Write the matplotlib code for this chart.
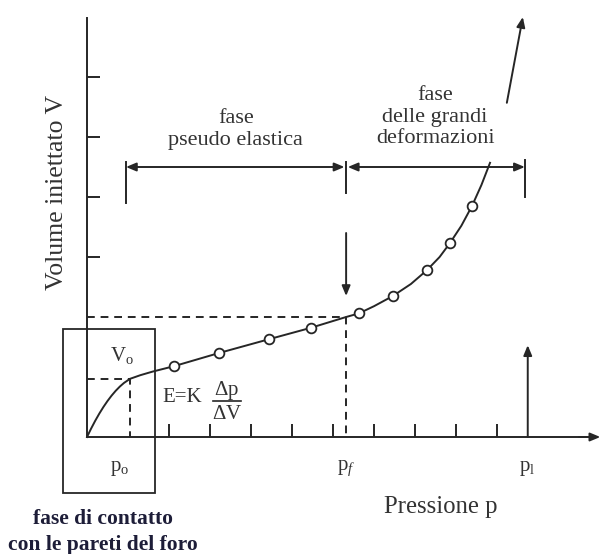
import matplotlib.pyplot as plt

plt.rcParams['font.family'] = ['Liberation Serif', 'DejaVu Serif']
plt.rcParams['mathtext.fontset'] = 'custom'
plt.rcParams['mathtext.rm'] = 'Liberation Serif'
plt.rcParams['mathtext.it'] = 'Liberation Serif:italic'

# prova pressiometrica: volume iniettato in funzione della pressione
curve_p = [0.0, 0.1, 0.2, 0.3, 0.4, 0.5, 0.6, 0.7, 0.8, 0.9, 1.05, 1.3, 1.6, 2.12,
           3.22, 4.44, 5.46, 6.32, 6.63, 7.0, 7.46, 7.9, 8.29, 8.6, 8.85, 9.13, 9.39,
           9.62, 9.83]
curve_v = [0.0, 0.14, 0.27, 0.39, 0.5, 0.6, 0.69, 0.77, 0.84, 0.9, 0.97, 1.03, 1.09, 1.18,
           1.40, 1.63, 1.82, 2.0, 2.06, 2.18, 2.35, 2.55, 2.78, 3.0, 3.23, 3.52, 3.85,
           4.2, 4.57]

# letture (cerchietti)
meas_p = [2.12, 3.22, 4.44, 5.46, 6.63, 7.46, 8.29, 8.85, 9.39]
meas_v = [1.18, 1.40, 1.63, 1.82, 2.06, 2.35, 2.78, 3.23, 3.85]

p0, v0 = 1.05, 0.97
pf, vf = 6.32, 2.0
pl = 10.75
phase_edges = [0.95, 6.32, 10.68]
phase_y = 4.5

x_ticks = [2, 3, 4, 5, 6, 7, 8, 9, 10]
y_ticks = [3, 4, 5, 6]

ink = '#262626'
lw = 1.4

fig = plt.figure(figsize=(6.02, 5.54), dpi=100)
ax = fig.add_axes([0, 0, 1, 1])
ax.set_xlim(-87 / 41, 515 / 41)
ax.set_ylim(-117 / 60, 437 / 60)

# assi con tacche interne
for side in ['top', 'right']:
    ax.spines[side].set_visible(False)
ax.spines['left'].set_position(('data', 0))
ax.spines['bottom'].set_position(('data', 0))
ax.spines['left'].set_bounds(0, 6.98)
ax.spines['bottom'].set_bounds(0, 12.3)
for side in ['left', 'bottom']:
    ax.spines[side].set_color(ink)
    ax.spines[side].set_linewidth(lw)
ax.set_xticks(x_ticks, [''] * len(x_ticks))
ax.set_yticks(y_ticks, [''] * len(y_ticks))
ax.tick_params(direction='in', length=9.5, width=lw, color=ink)
ax.annotate('', xy=(12.52, 0), xytext=(12.0, 0),
            arrowprops=dict(arrowstyle='-|>,head_length=0.6,head_width=0.25',
                            color=ink, lw=lw, shrinkA=0, shrinkB=0))

# curva e letture
ax.plot(curve_p, curve_v, color=ink, lw=lw, zorder=3)
ax.plot(meas_p, meas_v, 'o', ms=7, mfc='white', mec=ink, mew=1.3, zorder=4)

# tratteggi per p0 e pf
dash = (0, (4, 3))
ax.plot([0, p0, p0], [v0, v0, 0], color=ink, lw=lw, ls=dash)
ax.plot([0, pf, pf], [vf, vf, 0], color=ink, lw=lw, ls=dash)

# freccia verso pf e freccia su pl
arrow = dict(arrowstyle='-|>,head_length=0.6,head_width=0.25', color=ink, lw=lw,
             shrinkA=0, shrinkB=0)
ax.annotate('', xy=(pf, 2.35), xytext=(pf, 3.4), arrowprops=arrow)
ax.annotate('', xy=(pl, 1.53), xytext=(pl, 0), arrowprops=arrow)
ax.annotate('', xy=(10.63, 7.0), xytext=(10.24, 5.57), arrowprops=arrow)

# quote delle fasi
dim = dict(arrowstyle='<|-|>,head_length=0.6,head_width=0.25', color=ink, lw=lw,
           shrinkA=0, shrinkB=0)
ax.annotate('', xy=(phase_edges[1] - 0.04, phase_y), xytext=(phase_edges[0], phase_y),
            arrowprops=dim)
ax.annotate('', xy=(phase_edges[2], phase_y), xytext=(phase_edges[1] + 0.04, phase_y),
            arrowprops=dim)
ax.plot([phase_edges[0]] * 2, [4.58, 3.9], color=ink, lw=lw)
ax.plot([phase_edges[1]] * 2, [4.58, 4.07], color=ink, lw=lw)
ax.plot([phase_edges[2]] * 2, [4.62, 4.0], color=ink, lw=lw)

# riquadro della fase di contatto
ax.add_patch(plt.Rectangle((-0.585, -0.93), 2.245, 2.73, fill=False, ec=ink, lw=1.3))

txt = '#333333'
ax.text(3.63, 5.12, 'fase\npseudo elastica', ha='center', va='center', fontsize=16,
        color=txt, linespacing=1.2)
ax.text(8.49, 5.33, 'fase\ndelle grandi\ndeformazioni', ha='center', va='center',
        fontsize=16, color=txt, linespacing=1.2)
ax.text(-0.72, 4.07, 'Volume iniettato V', rotation=90, ha='center', va='center',
        fontsize=18.5, color=txt)
ax.text(8.63, -1.17, 'Pressione p', ha='center', va='center', fontsize=17.8, color=txt)

ax.text(0.85, 1.35, r'$\mathrm{V}_\mathrm{o}$', ha='center', va='center', fontsize=15, color=txt)
ax.text(0.8, -0.52, r'$\mathrm{p}_\mathrm{o}$', ha='center', va='center', fontsize=15, color=txt)
ax.text(pf, -0.52, r'$\mathrm{p}_f$', ha='center', va='center', fontsize=15, color=txt)
ax.text(pl - 0.02, -0.52, r'$\mathrm{p}_\mathrm{l}$', ha='center', va='center', fontsize=15, color=txt)

ax.text(1.83, 0.65, 'E=K', ha='left', va='center', fontsize=15, color=txt)
ax.text(3.41, 0.78, r'$\Delta$p', ha='center', va='center', fontsize=15, color=txt)
ax.text(3.41, 0.38, r'$\Delta$V', ha='center', va='center', fontsize=15, color=txt)
ax.plot([3.07, 3.76], [0.6, 0.6], color=ink, lw=1.2)

ax.text(0.39, -1.36, 'fase di contatto', ha='center', va='center', fontsize=15.5,
        fontweight='bold', color='#1d1d38')
ax.text(0.39, -1.8, 'con le pareti del foro', ha='center', va='center', fontsize=15.5,
        fontweight='bold', color='#1d1d38')

fig.savefig('out.png', dpi=100)
